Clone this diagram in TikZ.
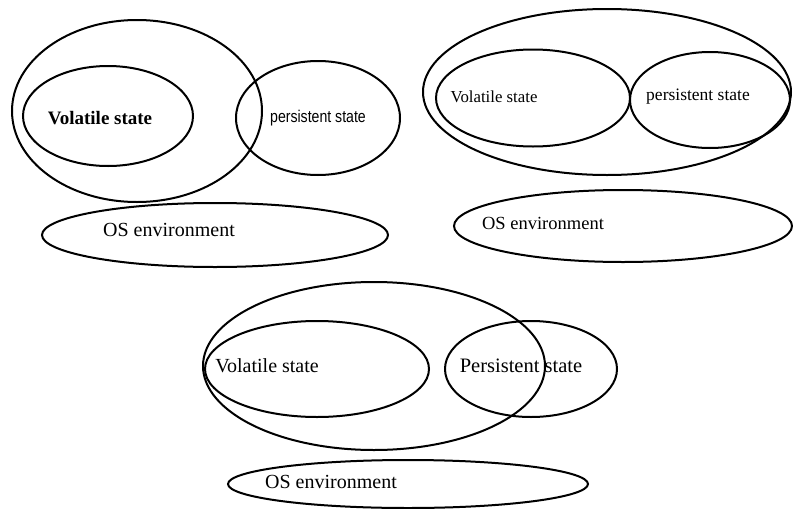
\documentclass[tikz,border=0pt]{standalone}
\usepackage{fontspec}
\setmainfont{Liberation Serif}
\newfontfamily\narrowsans{Liberation Sans}
\usetikzlibrary{shapes.geometric}
\begin{document}
\begin{tikzpicture}[x=1pt,y=-1pt,
  ring/.style={draw=black, ellipse, line width=2pt, inner sep=0pt},
  lbl/.style={inner sep=0pt, text=black}]
\useasboundingbox (0,0) rectangle (793,509);
\fill[white] (0,0) rectangle (793,509);

% ---- upper left: volatile state inside the process, persistent state overlapping
\node[ring, minimum width=250pt, minimum height=182pt] (procA) at (137,111) {};
\node[ring, minimum width=170pt, minimum height=100pt] (volA) at (108,116) {};
\node[ring, minimum width=164pt, minimum height=114pt] (perA) at (318,118) {};
\node[ring, minimum width=346pt, minimum height=64pt] (osA) at (215,235) {};
\node[lbl, font=\bfseries\fontsize{19}{22}\selectfont] (tvolA) at (100,118) {Volatile state};
\node[lbl, font=\narrowsans\fontsize{17}{20}\selectfont] (tperA) at (318,118) {\scalebox{0.83}[1]{persistent state}};
\node[lbl, font=\fontsize{20}{24}\selectfont] (tosA) at (169,230) {OS environment};

% ---- upper right: both states inside the process
\node[ring, minimum width=368pt, minimum height=166pt] (procB) at (607,92) {};
\node[ring, minimum width=194pt, minimum height=97pt] (volB) at (533,98) {};
\node[ring, minimum width=160pt, minimum height=96pt] (perB) at (710,100) {};
\node[ring, minimum width=338pt, minimum height=72pt] (osB) at (623,226) {};
\node[lbl, font=\fontsize{16.8}{20}\selectfont] (tvolB) at (494,97) {Volatile state};
\node[lbl, font=\fontsize{17.5}{20}\selectfont] (tperB) at (698,97) {persistent state};
\node[lbl, font=\fontsize{18.5}{22}\selectfont] (tosB) at (543,223) {OS environment};

% ---- bottom: persistent state partly inside the process
\node[ring, minimum width=342pt, minimum height=168pt] (procC) at (374,366) {};
\node[ring, minimum width=224pt, minimum height=96pt] (volC) at (317,369) {};
\node[ring, minimum width=172pt, minimum height=96pt] (perC) at (531,369) {};
\node[ring, minimum width=360pt, minimum height=48pt] (osC) at (408,484) {};
\node[lbl, font=\fontsize{20}{24}\selectfont] (tvolC) at (267,366) {Volatile state};
\node[lbl, font=\fontsize{20.5}{24}\selectfont] (tperC) at (521,366) {Persistent state};
\node[lbl, font=\fontsize{20}{24}\selectfont] (tosC) at (331,482) {OS environment};
\end{tikzpicture}
\end{document}
